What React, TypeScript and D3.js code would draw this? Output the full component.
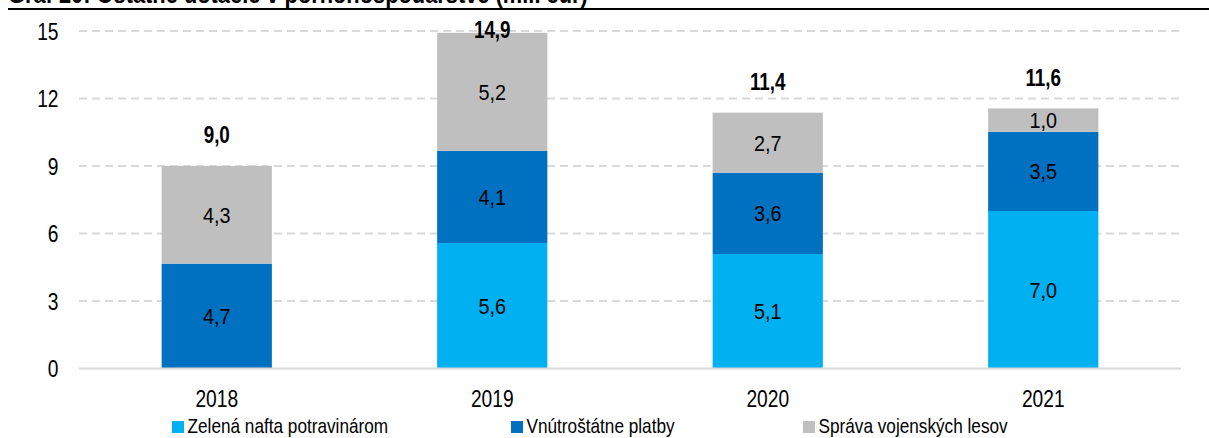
import React from "react";
import * as d3 from "d3";

const years = ["2018", "2019", "2020", "2021"];
const zelenaNafta = [0, 5.58, 5.09, 7.0];
const vnutrostatne = [4.66, 4.1, 3.61, 3.52];
const spravaLesov = [4.34, 5.24, 2.67, 1.04];
const yTicks = [0, 3, 6, 9, 12, 15];
const seriesNames = ["Zelená nafta potravinárom", "Vnútroštátne platby", "Správa vojenských lesov"];
const seriesColors = ["#00B0F0", "#0070C0", "#BFBFBF"];
const title = "Graf 20: Ostatné dotácie v poľnohospodárstve (mil. eur)";

const W = 1209;
const H = 438;
const FONT = "'Liberation Sans', Arial, sans-serif";
const fmt = (v: number) => v.toFixed(1).replace(".", ",");

export default function App() {
  const keys = ["z", "v", "s"];
  const rows = years.map((yr, i) => ({ year: yr, z: zelenaNafta[i], v: vnutrostatne[i], s: spravaLesov[i] }));
  const stacked = d3.stack<any>().keys(keys)(rows);

  const x = d3.scaleBand().domain(years).range([79, 1181]).paddingInner(0).paddingOuter(0);
  const y = d3.scaleLinear().domain([0, 15]).range([368.5, 31]);
  const bw = x.bandwidth() * 0.4;

  const legendX = [172, 511, 803];

  return (
    <svg width={W} height={H} style={{ position: "absolute", left: 0, top: 0, background: "#fff" }}>
      {/* title (cut at top, as in the reference) */}
      <text
        transform={`translate(8,3) scale(0.84,1)`}
        fontFamily={FONT}
        fontWeight="bold"
        fontSize={26}
        fill="#000"
      >
        {title}
      </text>
      <line x1={8} x2={W} y1={9} y2={9} stroke="#000" strokeWidth={2} />

      {/* gridlines */}
      {yTicks.filter((t) => t > 0).map((t) => (
        <line
          key={t}
          x1={79}
          x2={1181}
          y1={y(t)}
          y2={y(t)}
          stroke="#D9D9D9"
          strokeWidth={2}
          strokeDasharray="8,5"
        />
      ))}
      {yTicks.map((t) => (
        <text
          key={"t" + t}
          transform={`translate(58.5,${y(t) + 8.6}) scale(0.8,1)`}
          textAnchor="end"
          fontFamily={FONT}
          fontSize={24}
          fill="#000"
        >
          {t}
        </text>
      ))}

      {/* bars */}
      {stacked.map((layer, li) =>
        layer.map((d, i) => {
          const v = d[1] - d[0];
          if (v <= 0) return null;
          const bx = (x(years[i]) as number) + (x.bandwidth() - bw) / 2;
          return (
            <rect
              key={li + "-" + i}
              x={bx}
              y={y(d[1])}
              width={bw}
              height={y(d[0]) - y(d[1])}
              fill={seriesColors[li]}
            />
          );
        })
      )}

      {/* axis baseline */}
      <line x1={79} x2={1181} y1={y(0)} y2={y(0)} stroke="#D9D9D9" strokeWidth={2} />

      {/* segment labels */}
      {stacked.map((layer, li) =>
        layer.map((d, i) => {
          const v = d[1] - d[0];
          if (v <= 0) return null;
          const cx = (x(years[i]) as number) + x.bandwidth() / 2;
          const cy = (y(d[0]) + y(d[1])) / 2;
          return (
            <text
              key={"l" + li + "-" + i}
              transform={`translate(${cx},${cy + 8}) scale(0.88,1)`}
              textAnchor="middle"
              fontFamily={FONT}
              fontSize={22.5}
              fill="#000"
            >
              {fmt(v)}
            </text>
          );
        })
      )}

      {/* totals */}
      {rows.map((r, i) => {
        const tot = r.z + r.v + r.s;
        const cx = (x(r.year) as number) + x.bandwidth() / 2;
        const cy = Math.max(y(tot) - 31, 29.3);
        return (
          <text
            key={"tot" + i}
            transform={`translate(${cx},${cy + 8.2}) scale(0.82,1)`}
            textAnchor="middle"
            fontFamily={FONT}
            fontWeight="bold"
            fontSize={23}
            fill="#000"
          >
            {fmt(tot)}
          </text>
        );
      })}

      {/* x labels */}
      {years.map((yr) => (
        <text
          key={"x" + yr}
          transform={`translate(${(x(yr) as number) + x.bandwidth() / 2},406.7) scale(0.8,1)`}
          textAnchor="middle"
          fontFamily={FONT}
          fontSize={24}
          fill="#000"
        >
          {yr}
        </text>
      ))}

      {/* legend */}
      {seriesNames.map((name, i) => (
        <g key={"lg" + i}>
          <rect x={legendX[i]} y={421} width={12} height={12} fill={seriesColors[i]} />
          <text
            transform={`translate(${legendX[i] + 15.5},433.3) scale(0.86,1)`}
            fontFamily={FONT}
            fontSize={20}
            fill="#000"
          >
            {name}
          </text>
        </g>
      ))}
    </svg>
  );
}
